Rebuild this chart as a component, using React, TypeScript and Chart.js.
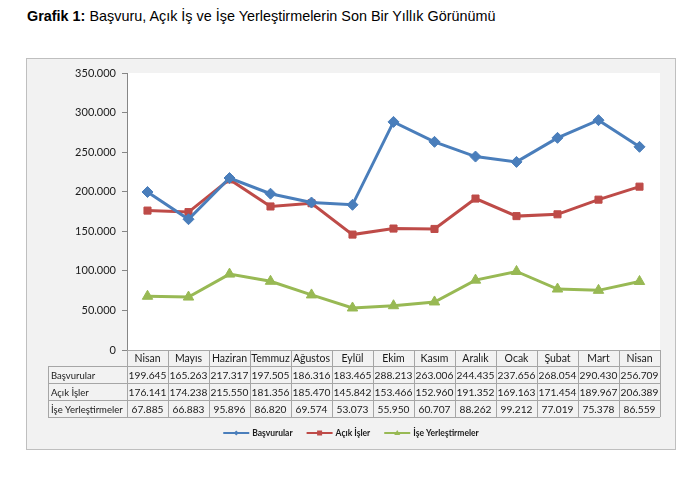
import { useRef, useEffect } from "react";
import { Chart, registerables, type Plugin } from "chart.js";

Chart.register(...registerables);

const MONTHS = [
  "Nisan", "Mayıs", "Haziran", "Temmuz", "Ağustos", "Eylül", "Ekim",
  "Kasım", "Aralık", "Ocak", "Şubat", "Mart", "Nisan",
];

const BASVURULAR = [
  199645, 165263, 217317, 197505, 186316, 183465, 288213,
  263006, 244435, 237656, 268054, 290430, 256709,
];

const ACIK_ISLER = [
  176141, 174238, 215550, 181356, 185470, 145842, 153466,
  152960, 191352, 169163, 171454, 189967, 206389,
];

const ISE_YERLESTIRME = [
  67885, 66883, 95896, 86820, 69574, 53073, 55950,
  60707, 88262, 99212, 77019, 75378, 86559,
];

const SERIES = [
  { label: "Başvurular", data: BASVURULAR, color: "#4A7EBB", point: "rectRot", radius: 5.5 },
  { label: "Açık İşler", data: ACIK_ISLER, color: "#BE4B48", point: "rect", radius: 5 },
  { label: "İşe Yerleştirmeler", data: ISE_YERLESTIRME, color: "#98B954", point: "triangle", radius: 6 },
];

const FONT = "Lato, 'Open Sans', sans-serif";
const GRID = "#a6a6a6";

const fmt = (v: number) => String(Math.round(v)).replace(/\B(?=(\d{3})+(?!\d))/g, ".");

const tablePlugin: Plugin<"line"> = {
  id: "dataTable",
  beforeDraw(chart) {
    const { ctx, chartArea } = chart;
    ctx.save();
    ctx.fillStyle = "#ffffff";
    ctx.fillRect(chartArea.left, chartArea.top, chartArea.right - chartArea.left, chartArea.bottom - chartArea.top);
    ctx.restore();
  },
  afterDraw(chart) {
    const { ctx, chartArea } = chart;
    const x = chart.scales.x;
    const left = chartArea.left;
    const right = chartArea.right;
    const colW = (right - left) / MONTHS.length;
    const labelLeft = 21;
    const top = chartArea.bottom;
    const rows = [top, top + 16, top + 33, top + 50, top + 67];

    ctx.save();
    ctx.strokeStyle = GRID;
    ctx.lineWidth = 1;

    // horizontal lines
    ctx.beginPath();
    ctx.moveTo(left, rows[0] + 0.5);
    ctx.lineTo(right, rows[0] + 0.5);
    for (let r = 1; r < rows.length; r++) {
      ctx.moveTo(labelLeft, Math.round(rows[r]) + 0.5);
      ctx.lineTo(right, Math.round(rows[r]) + 0.5);
    }
    // vertical lines
    ctx.moveTo(labelLeft + 0.5, rows[1]);
    ctx.lineTo(labelLeft + 0.5, rows[4]);
    for (let i = 0; i <= MONTHS.length; i++) {
      const vx = Math.round(left + i * colW) + 0.5;
      ctx.moveTo(vx, rows[0]);
      ctx.lineTo(vx, rows[4]);
    }
    ctx.stroke();

    ctx.fillStyle = "#1a1a1a";
    ctx.font = `10.5px ${FONT}`;
    ctx.textBaseline = "middle";
    ctx.textAlign = "center";
    MONTHS.forEach((m, i) => {
      ctx.fillText(m, x.getPixelForValue(i), (rows[0] + rows[1]) / 2 + 1);
    });
    SERIES.forEach((s, r) => {
      const cy = (rows[r + 1] + rows[r + 2]) / 2 + 1;
      ctx.textAlign = "left";
      ctx.font = `9.5px ${FONT}`;
      ctx.fillText(s.label, labelLeft + 3, cy);
      ctx.textAlign = "center";
      ctx.font = `10.2px ${FONT}`;
      s.data.forEach((v, i) => {
        ctx.fillText(fmt(v), x.getPixelForValue(i), cy);
      });
    });

    // legend
    ctx.font = `bold 8.5px ${FONT}`;
    const lineW = 26;
    const gap = 3;
    const itemGap = 14;
    const widths = SERIES.map((s) => lineW + gap + ctx.measureText(s.label).width);
    const total = widths.reduce((a, b) => a + b, 0) + itemGap * (SERIES.length - 1);
    let lx = (chart.width - total) / 2;
    const ly = 374;
    SERIES.forEach((s, i) => {
      ctx.strokeStyle = s.color;
      ctx.fillStyle = s.color;
      ctx.lineWidth = 2;
      ctx.beginPath();
      ctx.moveTo(lx, ly);
      ctx.lineTo(lx + lineW, ly);
      ctx.stroke();
      const mx = lx + lineW / 2;
      ctx.beginPath();
      if (s.point === "rectRot") {
        ctx.moveTo(mx, ly - 2.5);
        ctx.lineTo(mx + 2.5, ly);
        ctx.lineTo(mx, ly + 2.5);
        ctx.lineTo(mx - 2.5, ly);
      } else if (s.point === "rect") {
        ctx.rect(mx - 2.5, ly - 2.5, 5, 5);
      } else {
        ctx.moveTo(mx, ly - 3);
        ctx.lineTo(mx + 3, ly + 2);
        ctx.lineTo(mx - 3, ly + 2);
      }
      ctx.closePath();
      ctx.fill();
      ctx.fillStyle = "#1a1a1a";
      ctx.textAlign = "left";
      ctx.fillText(s.label, lx + lineW + gap, ly + 0.5);
      lx += widths[i] + itemGap;
    });
    ctx.restore();
  },
};

function LineTableChart() {
  const canvasRef = useRef<HTMLCanvasElement>(null);
  const chartRef = useRef<Chart | null>(null);

  useEffect(() => {
    if (!canvasRef.current) return;
    chartRef.current?.destroy();

    chartRef.current = new Chart(canvasRef.current, {
      type: "line",
      data: {
        labels: MONTHS,
        datasets: SERIES.map((s) => ({
          label: s.label,
          data: s.data,
          borderColor: s.color,
          backgroundColor: s.color,
          borderWidth: 3,
          pointStyle: s.point as any,
          pointRadius: s.radius,
          pointBorderWidth: 1,
          tension: 0,
        })),
      },
      options: {
        responsive: true,
        maintainAspectRatio: false,
        animation: false,
        layout: { padding: { left: 0, right: 15, top: 14, bottom: 99 } },
        plugins: {
          legend: { display: false },
          tooltip: { enabled: false },
        },
        scales: {
          x: {
            type: "category",
            offset: true,
            display: false,
          },
          y: {
            min: 0,
            max: 350000,
            afterFit: (scale) => {
              scale.width = 100;
            },
            ticks: {
              stepSize: 50000,
              color: "#1a1a1a",
              font: { family: FONT, size: 11 },
              padding: 6,
              callback: (v) => fmt(Number(v)),
            },
            grid: {
              drawOnChartArea: false,
              drawTicks: true,
              tickLength: 5,
              color: "#868686",
            },
            border: { color: "#868686" },
          },
        },
      },
      plugins: [tablePlugin],
    });

    return () => {
      chartRef.current?.destroy();
    };
  }, []);

  return (
    <div
      style={{
        position: "absolute",
        left: 26,
        top: 58,
        width: 648,
        height: 390,
        border: "1px solid #bfbfbf",
        background: "#f2f2f2",
      }}
    >
      <canvas ref={canvasRef} />
    </div>
  );
}

export default function App() {
  useEffect(() => {
    document.body.style.margin = "0";
  }, []);

  return (
    <div style={{ position: "relative", width: 700, height: 480, background: "#fff" }}>
      <div
        style={{
          position: "absolute",
          left: 27,
          top: 8,
          fontFamily: "'Liberation Sans', Arial, sans-serif",
          fontSize: 14.4,
          color: "#000",
          whiteSpace: "nowrap",
        }}
      >
        <b>Grafik 1:</b> Başvuru, Açık İş ve İşe Yerleştirmelerin Son Bir Yıllık Görünümü
      </div>
      <LineTableChart />
    </div>
  );
}
